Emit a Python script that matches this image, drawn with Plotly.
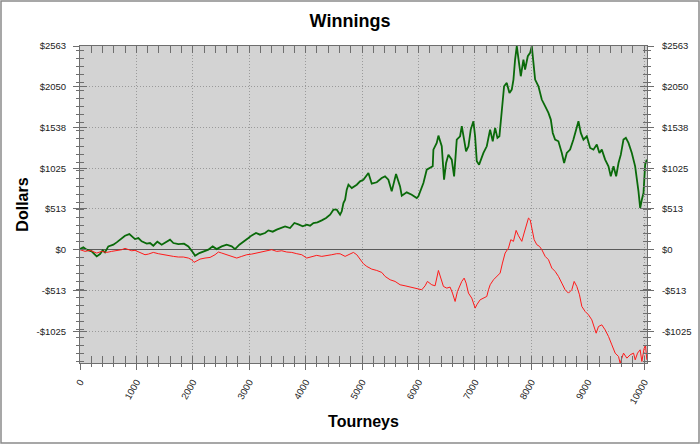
import plotly.graph_objects as go

# ---- data ----
green_x = [0, 59, 118, 207, 296, 355, 402, 443, 502, 591, 650, 739, 798, 875, 916, 975,
           1034, 1093, 1182, 1241, 1300, 1371, 1448, 1525, 1596, 1655, 1743, 1844, 1921,
           2009, 2039, 2116, 2187, 2275, 2352, 2423, 2512, 2600, 2689, 2748, 2825, 2896,
           2985, 3044, 3120, 3191, 3280, 3339, 3416, 3487, 3564, 3635, 3723, 3800, 3871,
           3948, 4019, 4078, 4137, 4208, 4285, 4362, 4433, 4492, 4551, 4610, 4640, 4669,
           4699, 4728, 4758, 4817, 4906, 4964, 5023, 5082, 5112, 5171, 5260, 5348, 5407,
           5466, 5525, 5602, 5673, 5703, 5791, 5880, 5969, 5998, 6087, 6146, 6205, 6252,
           6264, 6323, 6353, 6412, 6453, 6489, 6530, 6589, 6631, 6678, 6737, 6767, 6808,
           6843, 6885, 6926, 6973, 7003, 7033, 7074, 7151, 7210, 7269, 7316, 7358, 7399,
           7434, 7476, 7517, 7564, 7612, 7653, 7683, 7712, 7742, 7789, 7813, 7860, 7889,
           7937, 7978, 8008, 8037, 8067, 8126, 8185, 8244, 8303, 8345, 8380, 8421, 8480,
           8540, 8581, 8628, 8687, 8746, 8794, 8835, 8876, 8924, 8983, 9042, 9101, 9160,
           9207, 9249, 9308, 9367, 9408, 9456, 9503, 9545, 9586, 9633, 9675, 9722, 9781,
           9840, 9899, 9929, 9958, 9988, 10017, 10047]
green_y = [8, 29, 0, -21, -84, -55, -8, -34, 42, 63, 92, 147, 176, 197, 168, 134,
           147, 105, 76, 84, 50, 101, 63, 92, 126, 84, 71, 76, 42,
           -42, -76, -42, -21, 0, 42, 8, 42, 63, 42, 8, 63, 105,
           147, 180, 210, 189, 210, 243, 227, 252, 273, 294, 273, 336, 319,
           294, 315, 302, 336, 344, 369, 399, 441, 504, 504, 441, 483, 588,
           630, 755, 818, 776, 818, 860, 881, 944, 965, 831, 848, 902, 923,
           881, 734, 953, 797, 680, 722, 692, 650, 671, 839, 1007, 1028, 1049,
           1259, 1343, 1435, 1301, 881, 1091, 1196, 1133, 923, 1385, 1427, 1553, 1385,
           1238, 1301, 1511, 1616, 1427, 1112, 1070, 1217, 1301, 1511, 1364, 1532, 1406,
           1427, 1763, 2056, 2098, 1972, 2014, 2140, 2392, 2560, 2308, 2182, 2392, 2266,
           2434, 2476, 2560, 2308, 2140, 2056, 1889, 1805, 1721, 1637, 1469, 1385, 1364,
           1217, 1091, 1217, 1259, 1385, 1511, 1616, 1469, 1385, 1427, 1280, 1259, 1322,
           1217, 1259, 1133, 1049, 923, 1049, 923, 1091, 1196, 1385, 1406, 1343, 1217,
           1049, 734, 525, 629, 713, 1070, 1133]

red_x = [0, 89, 177, 296, 384, 473, 561, 650, 739, 798, 857, 916, 975, 1064, 1152, 1212,
         1300, 1389, 1478, 1566, 1655, 1743, 1832, 1921, 1980, 2021, 2069, 2128, 2216,
         2305, 2394, 2453, 2512, 2600, 2689, 2778, 2866, 2955, 3044, 3132, 3221, 3339,
         3398, 3487, 3576, 3664, 3753, 3842, 3930, 4019, 4107, 4196, 4285, 4373, 4462,
         4551, 4610, 4699, 4787, 4846, 4906, 4965, 5024, 5083, 5171, 5260, 5349, 5408,
         5497, 5585, 5674, 5762, 5851, 5940, 6058, 6117, 6158, 6235, 6294, 6353, 6401,
         6442, 6501, 6560, 6602, 6649, 6690, 6726, 6767, 6809, 6844, 6885, 6944, 7004,
         7033, 7092, 7151, 7210, 7240, 7270, 7329, 7388, 7447, 7488, 7535, 7595, 7636,
         7683, 7730, 7772, 7831, 7872, 7908, 7949, 7979, 8008, 8050, 8097, 8144, 8186,
         8245, 8304, 8363, 8422, 8481, 8540, 8599, 8658, 8717, 8759, 8806, 8853, 8895,
         8954, 9013, 9072, 9113, 9149, 9190, 9249, 9308, 9368, 9427, 9486, 9545, 9574,
         9634, 9693, 9752, 9811, 9841, 9882, 9929, 9959, 10000, 10024, 10047]
red_y = [0, -21, -8, -42, -21, -34, -21, -13, 0, 17, 0, -13, -8, -34, -63, -55,
         -34, -50, -63, -76, -84, -92, -92, -105, -126, -159, -139, -118, -105,
         -97, -63, -29, -42, -63, -84, -105, -84, -63, -55, -42, -34, -8,
         0, -21, -13, -29, -34, -50, -63, -105, -84, -71, -84, -76, -63,
         -50, -51, -84, -51, -34, -63, -126, -177, -210, -244, -261, -286, -336,
         -378, -399, -441, -454, -470, -483, -504, -454, -399, -441, -454, -261, -378,
         -462, -483, -470, -546, -651, -525, -454, -399, -357, -420, -546, -609, -735,
         -693, -630, -609, -588, -504, -441, -378, -336, -294, -168, -42, 21, 126,
         105, 243, 176, 105, 210, 293, 398, 377, 251, 126, 63, 42, 0,
         -84, -126, -231, -273, -336, -420, -504, -546, -504, -399, -462, -567, -714,
         -777, -819, -882, -966, -1050, -966, -945, -1008, -1092, -1197, -1301, -1343, -1427,
         -1301, -1364, -1322, -1301, -1385, -1301, -1259, -1406, -1238, -1208, -1385]

x_ticks = [0, 1000, 2000, 3000, 4000, 5000, 6000, 7000, 8000, 9000, 10000]
x_labels = [str(v) for v in x_ticks]
y_ticks = [-1025, -512.5, 0, 512.5, 1025, 1537.5, 2050, 2562.5]
y_labels = ["-$1025", "-$513", "$0", "$513", "$1025", "$1538", "$2050", "$2563"]

X_RANGE = [0, 10050]
Y_RANGE = [-1425, 2562.5]

AX = "#6e6e6e"
GRID = "#9a9a9a"
FONT = "Liberation Sans, Arial, sans-serif"
tickfont = dict(family=FONT, size=9.5, color="#222")

fig = go.Figure()
fig.add_trace(go.Scatter(x=green_x, y=green_y, mode="lines",
                         line=dict(color="#0a6a0a", width=1.8), showlegend=False))
fig.add_trace(go.Scatter(x=red_x, y=red_y, mode="lines",
                         line=dict(color="#ff1a1a", width=1), showlegend=False))
# empty traces so the overlay axes exist
fig.add_trace(go.Scatter(x=[], y=[], xaxis="x2", yaxis="y2", showlegend=False))
fig.add_trace(go.Scatter(x=[], y=[], xaxis="x2", yaxis="y3", showlegend=False))

fig.update_layout(
    width=700, height=444,
    margin=dict(l=80, r=53, t=46, b=81, autoexpand=False),
    paper_bgcolor="white", plot_bgcolor="#d3d3d3",
    title=dict(text="<b>Winnings</b>", x=0.5, xref="container", xanchor="center",
               y=1 - 21 / 444, yref="container", yanchor="middle",
               font=dict(family=FONT, size=18, color="#000")),
    xaxis=dict(range=X_RANGE, tickmode="array", tickvals=x_ticks, ticktext=x_labels,
               tickangle=-60, tickfont=tickfont, ticks="outside", ticklen=6,
               ticklabelstandoff=3,
               tickcolor=AX, showline=True, linecolor=AX, linewidth=1, mirror=True,
               showgrid=True, gridcolor=GRID, griddash="1px,2px", gridwidth=1,
               zeroline=False, automargin=False,
               minor=dict(tickmode="linear", tick0=0, dtick=200, ticks="outside",
                          ticklen=3, tickcolor=AX, showgrid=False),
               title=dict(text="<b>Tourneys</b>", standoff=10,
                          font=dict(family=FONT, size=16, color="#000"))),
    xaxis2=dict(range=X_RANGE, overlaying="x", anchor="y", side="bottom",
                tickmode="array", tickvals=x_ticks, showticklabels=False,
                ticks="inside", ticklen=7, tickcolor=AX, mirror="allticks",
                showline=False, showgrid=False, zeroline=False, automargin=False,
                minor=dict(tickmode="linear", tick0=0, dtick=200, ticks="inside",
                           ticklen=4, tickcolor=AX, showgrid=False)),
    yaxis=dict(range=Y_RANGE, tickmode="array", tickvals=y_ticks, ticktext=y_labels,
               tickfont=tickfont, ticks="outside", ticklen=6, tickcolor=AX,
               ticklabelstandoff=5, automargin=False,
               showline=True, linecolor=AX, linewidth=1, mirror=True,
               showgrid=True, gridcolor=GRID, griddash="1px,2px", gridwidth=1,
               zeroline=True, zerolinecolor="#5a5a5a", zerolinewidth=1,
               minor=dict(tickmode="linear", tick0=0, dtick=100, ticks="outside",
                          ticklen=3, tickcolor=AX, showgrid=False),
               title=dict(text="<b>Dollars</b>", standoff=3,
                          font=dict(family=FONT, size=16, color="#000"))),
    yaxis2=dict(range=Y_RANGE, overlaying="y", anchor="x", side="right",
                tickmode="array", tickvals=y_ticks, ticktext=y_labels,
                tickfont=tickfont, ticks="outside", ticklen=6, tickcolor=AX,
                ticklabelstandoff=6, automargin=False,
                showline=False, showgrid=False, zeroline=False,
                minor=dict(tickmode="linear", tick0=0, dtick=100, ticks="outside",
                           ticklen=3, tickcolor=AX, showgrid=False)),
    yaxis3=dict(range=Y_RANGE, overlaying="y", anchor="x", side="left",
                tickmode="array", tickvals=y_ticks, showticklabels=False,
                ticks="inside", ticklen=7, tickcolor=AX, mirror="allticks",
                showline=False, showgrid=False, zeroline=False, automargin=False,
                minor=dict(tickmode="linear", tick0=0, dtick=100, ticks="inside",
                           ticklen=4, tickcolor=AX, showgrid=False)),
)

# outer frame of the image
pw, ph = 700 - 80 - 53, 444 - 46 - 81
fig.add_shape(type="rect", xref="paper", yref="paper",
              x0=(1 - 80) / pw, x1=(699 - 80) / pw,
              y0=-(81 - 1) / ph, y1=1 + (46 - 1) / ph,
              line=dict(color="#8a8a8a", width=1.5), fillcolor="rgba(0,0,0,0)",
              layer="above")

fig.write_html("out.html", config={"displayModeBar": False},
               post_script="document.body.style.margin='0';"
                           "document.body.style.overflow='hidden';")
